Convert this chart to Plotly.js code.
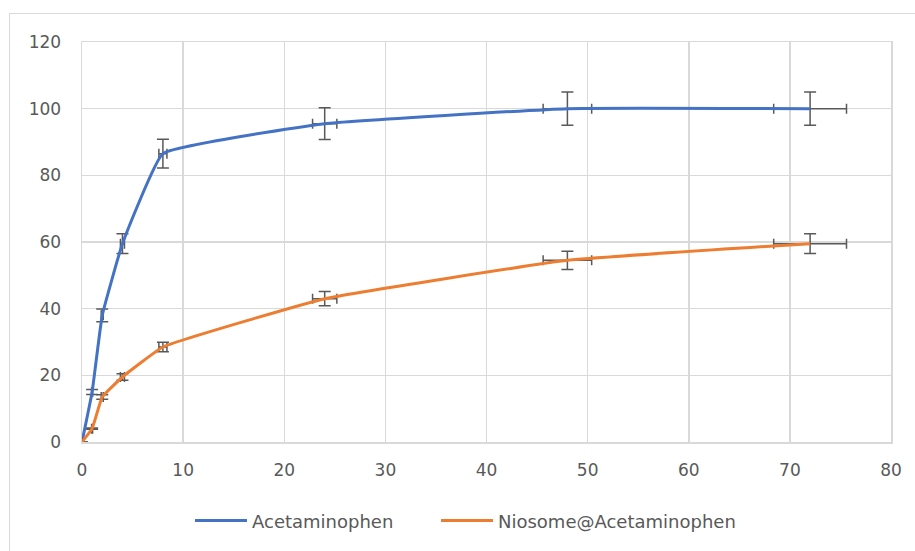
<!DOCTYPE html>
<html>
<head>
<meta charset="utf-8">
<script src="https://cdn.plot.ly/plotly-3.0.1.min.js"></script>
<style>
  html, body { margin: 0; padding: 0; background: #ffffff; overflow: hidden; }
  #chart { width: 915px; height: 551px; position: relative; }
  #frame { position: absolute; left: 9px; top: 13px; width: 960px; height: 600px;
           border: 1.5px solid #d9d9d9; pointer-events: none; box-sizing: border-box; }
</style>
</head>
<body>
<div id="chart"></div>
<div id="frame"></div>
<script>
// Data
const timeHours = [0, 1, 2, 4, 8, 24, 48, 72];
const acetaminophen = [0, 15, 38, 59.5, 86.5, 95.5, 100, 100];
const niosomeAcetaminophen = [0, 4, 13.5, 19.5, 28.5, 43, 54.5, 59.5];
const seriesNames = ['Acetaminophen', 'Niosome@Acetaminophen'];
const xTicks = [0, 10, 20, 30, 40, 50, 60, 70, 80];
const yTicks = [0, 20, 40, 60, 80, 100, 120];
const errorPercent = 5;

const errColor = '#595959';
function errBars() {
  return {
    y: { type: 'percent', value: errorPercent, color: errColor, thickness: 1.5, width: 6, visible: true },
    x: { type: 'percent', value: errorPercent, color: errColor, thickness: 1.5, width: 5, visible: true }
  };
}
const e1 = errBars(), e2 = errBars();

const traces = [
  {
    x: timeHours, y: acetaminophen, name: seriesNames[0], type: 'scatter', mode: 'lines',
    line: { color: '#4472C4', width: 3, shape: 'spline', smoothing: 0.3 },
    error_y: e1.y, error_x: e1.x, legend: 'legend'
  },
  {
    x: timeHours, y: niosomeAcetaminophen, name: seriesNames[1], type: 'scatter', mode: 'lines',
    line: { color: '#ED7D31', width: 3, shape: 'spline', smoothing: 0.3 },
    error_y: e2.y, error_x: e2.x, legend: 'legend2'
  }
];

const font = { family: 'DejaVu Sans, sans-serif', size: 17, color: '#595959' };
const legendFont = { family: 'DejaVu Sans, sans-serif', size: 18, color: '#595959' };
const plotL = 82, plotW = 809;
function legendAt(px) {
  return {
    orientation: 'h', x: (px - plotL) / plotW, xanchor: 'left', y: -0.197, yanchor: 'middle',
    font: legendFont, bgcolor: 'rgba(0,0,0,0)', itemwidth: 52
  };
}

const layout = {
  width: 915, height: 551,
  margin: { l: plotL, r: 24, t: 42, b: 107 },
  paper_bgcolor: '#ffffff', plot_bgcolor: '#ffffff',
  font: font,
  showlegend: true,
  legend: legendAt(190),
  legend2: legendAt(436),
  xaxis: {
    range: [0, 80], tickvals: xTicks, ticktext: xTicks.map(String),
    showgrid: true, gridcolor: '#d9d9d9', gridwidth: 1.5,
    zeroline: false, showline: true, linecolor: '#d9d9d9', linewidth: 1.5, mirror: true,
    ticks: '', ticklabelstandoff: 12, tickfont: font, fixedrange: true
  },
  yaxis: {
    range: [0, 120], tickvals: yTicks, ticktext: yTicks.map(String),
    showgrid: true, gridcolor: '#d9d9d9', gridwidth: 1.5,
    zeroline: false, showline: true, linecolor: '#d9d9d9', linewidth: 1.5, mirror: true,
    ticks: '', ticklabelstandoff: 16, tickfont: font, fixedrange: true
  }
};

Plotly.newPlot('chart', traces, layout, { staticPlot: true, displayModeBar: false });
</script>
</body>
</html>
